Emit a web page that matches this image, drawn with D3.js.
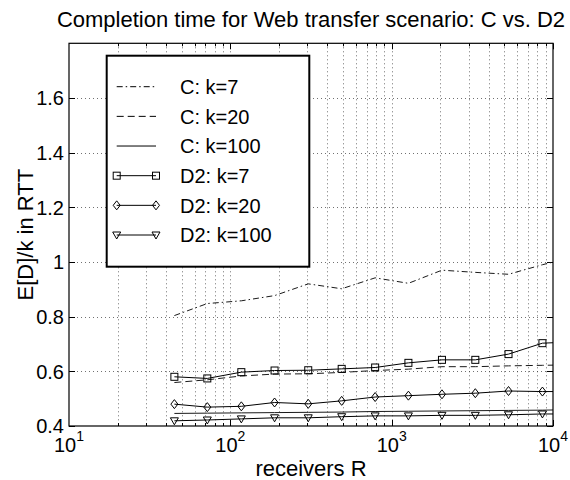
<!DOCTYPE html>
<html>
<head>
<meta charset="utf-8">
<script src="https://cdn.jsdelivr.net/npm/d3@7/dist/d3.min.js"></script>
<style>
  html, body { margin: 0; padding: 0; background: #fff; }
  svg { display: block; font-family: "Liberation Sans", Arial, sans-serif; }
</style>
</head>
<body>
<svg id="chart" width="570" height="480"></svg>
<script>
// ---- data ----
const receivers = [45, 72, 117, 188, 304, 490, 790, 1270, 2050, 3300, 5300, 8600, 13800];
const C_k7    = [0.804, 0.848, 0.858, 0.877, 0.920, 0.902, 0.942, 0.922, 0.970, 0.962, 0.955, 0.990, 1.020];
const C_k20   = [0.559, 0.569, 0.583, 0.590, 0.591, 0.596, 0.603, 0.608, 0.617, 0.617, 0.620, 0.622, 0.624];
const C_k100  = [0.446, 0.447, 0.448, 0.449, 0.450, 0.451, 0.453, 0.454, 0.455, 0.456, 0.457, 0.458, 0.460];
const D2_k7   = [0.580, 0.574, 0.597, 0.603, 0.604, 0.609, 0.614, 0.631, 0.642, 0.642, 0.663, 0.703, 0.708];
const D2_k20  = [0.480, 0.469, 0.472, 0.486, 0.481, 0.492, 0.506, 0.511, 0.516, 0.520, 0.528, 0.526, 0.526];
const D2_k100 = [0.419, 0.422, 0.426, 0.430, 0.430, 0.434, 0.437, 0.437, 0.439, 0.439, 0.441, 0.444, 0.444];
const yTicks = [0.4, 0.6, 0.8, 1.0, 1.2, 1.4, 1.6];
const yTickLabels = ["0.4", "0.6", "0.8", "1", "1.2", "1.4", "1.6"];
const xTicks = [10, 100, 1000, 10000];
const xTickExp = ["1", "2", "3", "4"];
const seriesNames = ["C: k=7", "C: k=20", "C: k=100", "D2: k=7", "D2: k=20", "D2: k=100"];
const titleText = "Completion time for Web transfer scenario: C vs. D2";
const xLabel = "receivers R";
const yLabel = "E[D]/k in RTT";

const series = [
  { name: seriesNames[0], values: C_k7,    dash: "6,3,1.5,3", marker: null },
  { name: seriesNames[1], values: C_k20,   dash: "7,4",       marker: null },
  { name: seriesNames[2], values: C_k100,  dash: null,        marker: null },
  { name: seriesNames[3], values: D2_k7,   dash: null,        marker: "square" },
  { name: seriesNames[4], values: D2_k20,  dash: null,        marker: "diamond" },
  { name: seriesNames[5], values: D2_k100, dash: null,        marker: "triangle" }
];

// ---- layout ----
const L = 69, R = 553, T = 43.3, B = 426;
const svg = d3.select("#chart");
const x = d3.scaleLog().domain([10, 10000]).range([L, R]);
const y = d3.scaleLinear().domain([0.4, 1.8]).range([B, T]);

svg.append("defs").append("clipPath").attr("id", "clip")
  .append("rect").attr("x", L).attr("y", T).attr("width", R - L).attr("height", B - T);

// grid
const minorX = [];
for (let d = 10; d < 10000; d *= 10) for (let m = 1; m <= 9; m++) { if (d*m > 10) minorX.push(d * m); }
const grid = svg.append("g").attr("stroke", "#333").attr("stroke-width", 0.7).attr("stroke-dasharray", "1,3");
grid.selectAll("line.vx").data(minorX).join("line")
  .attr("x1", d => Math.round(x(d)) + 0.5).attr("x2", d => Math.round(x(d)) + 0.5)
  .attr("y1", T).attr("y2", B);
grid.selectAll("line.hy").data(yTicks.slice(1)).join("line")
  .attr("x1", L).attr("x2", R)
  .attr("y1", d => Math.round(y(d)) + 0.5).attr("y2", d => Math.round(y(d)) + 0.5);

// ticks (inside, on all sides)
const ticks = svg.append("g").attr("stroke", "#000").attr("stroke-width", 1);
const majorLen = 6, minorLen = 3;
const allX = minorX.concat([10000]);
allX.forEach(v => {
  const isMajor = xTicks.includes(v);
  const len = isMajor ? majorLen : minorLen;
  const xx = Math.round(x(v)) + 0.5;
  ticks.append("line").attr("x1", xx).attr("x2", xx).attr("y1", B).attr("y2", B - len);
  ticks.append("line").attr("x1", xx).attr("x2", xx).attr("y1", T).attr("y2", T + len);
});
yTicks.forEach(v => {
  const yy = Math.round(y(v)) + 0.5;
  ticks.append("line").attr("x1", L).attr("x2", L + majorLen).attr("y1", yy).attr("y2", yy);
  ticks.append("line").attr("x1", R).attr("x2", R - majorLen).attr("y1", yy).attr("y2", yy);
});

// series
const plot = svg.append("g").attr("clip-path", "url(#clip)");
const line = d3.line().x((d, i) => x(receivers[i])).y(d => y(d));

function drawMarker(g, type, cx, cy) {
  if (type === "square") {
    g.append("rect").attr("x", cx - 3.5).attr("y", cy - 3.5).attr("width", 7).attr("height", 7)
      .attr("fill", "none").attr("stroke", "#000").attr("stroke-width", 1);
  } else if (type === "diamond") {
    g.append("path").attr("d", `M${cx},${cy-4.5}L${cx+3.5},${cy}L${cx},${cy+4.5}L${cx-3.5},${cy}Z`)
      .attr("fill", "none").attr("stroke", "#000").attr("stroke-width", 1);
  } else if (type === "triangle") {
    g.append("path").attr("d", `M${cx-4},${cy-3}L${cx+4},${cy-3}L${cx},${cy+4}Z`)
      .attr("fill", "none").attr("stroke", "#000").attr("stroke-width", 1);
  }
}

series.forEach(s => {
  plot.append("path").datum(s.values).attr("d", line)
    .attr("fill", "none").attr("stroke", s.marker ? "#000" : "#1a1a1a")
    .attr("stroke-width", 1)
    .attr("stroke-dasharray", s.dash);
  if (s.marker) {
    s.values.forEach((v, i) => drawMarker(plot, s.marker, x(receivers[i]), y(v)));
  }
});

// axes box
svg.append("rect").attr("x", L).attr("y", T).attr("width", R - L).attr("height", B - T)
  .attr("fill", "none").attr("stroke", "#000").attr("stroke-width", 1.2);

// tick labels
yTicks.forEach((v, i) => {
  svg.append("text").attr("x", 64).attr("y", y(v)).attr("dy", "0.36em")
    .attr("text-anchor", "end").attr("font-size", 20).text(yTickLabels[i]);
});
xTicks.forEach((v, i) => {
  const t = svg.append("text").attr("x", x(v)).attr("y", 452).attr("text-anchor", "middle").attr("font-size", 20);
  t.append("tspan").text("10");
  t.append("tspan").attr("font-size", 14).attr("dy", -11).text(xTickExp[i]);
});

// title & labels
svg.append("text").attr("x", (L + R) / 2).attr("y", 27).attr("text-anchor", "middle")
  .attr("font-size", 22).text(titleText);
svg.append("text").attr("x", (L + R) / 2).attr("y", 476).attr("text-anchor", "middle")
  .attr("font-size", 22).text(xLabel);
svg.append("text").attr("transform", `translate(33,${(T + B) / 2}) rotate(-90)`)
  .attr("text-anchor", "middle").attr("font-size", 22).text(yLabel);

// legend
const lg = svg.append("g");
lg.append("rect").attr("x", 106.7).attr("y", 55.7).attr("width", 202.6).attr("height", 211)
  .attr("fill", "#fff").attr("stroke", "#000").attr("stroke-width", 2);
series.forEach((s, i) => {
  const cy = 86.7 + i * 29.66;
  lg.append("line").attr("x1", 116.7).attr("x2", 156).attr("y1", cy).attr("y2", cy)
    .attr("stroke", "#000").attr("stroke-width", 1).attr("stroke-dasharray", s.dash);
  if (s.marker) { drawMarker(lg, s.marker, 116.7, cy); drawMarker(lg, s.marker, 156, cy); }
  lg.append("text").attr("x", 180).attr("y", cy).attr("dy", "0.36em").attr("font-size", 20).text(s.name);
});
</script>
</body>
</html>
